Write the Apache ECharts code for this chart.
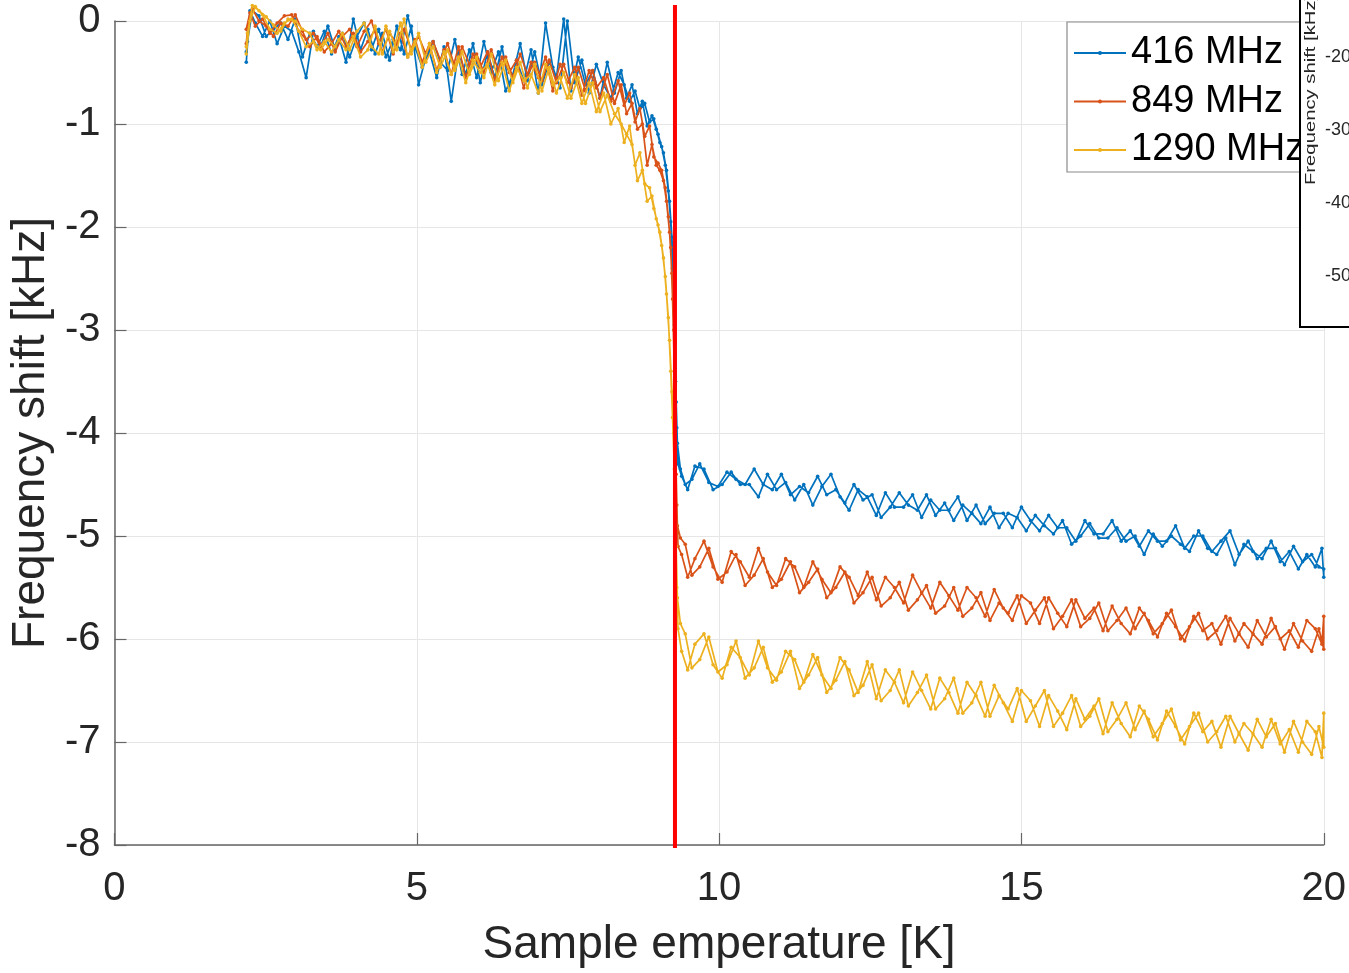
<!DOCTYPE html>
<html>
<head>
<meta charset="utf-8">
<script src="https://cdn.jsdelivr.net/npm/echarts@6/dist/echarts.min.js"></script>
<style>html,body{margin:0;padding:0;background:#fff;}#c{width:1349px;height:973px;}</style>
</head>
<body>
<div id="c"></div>
<script>
// ---- data ----
const seriesNames = ['416 MHz', '849 MHz', '1290 MHz'];
const seriesColors = ['#0072BD', '#D95319', '#EDB120'];

// temperature points of the warming sweep (K)
const tempUp = [2.18,2.24,2.33,2.45,2.57,2.69,2.81,2.93,3.05,3.17,3.29,3.41,3.53,3.65,3.77,3.89,4.01,4.13,4.25,4.37,4.49,4.61,4.73,4.85,4.97,5.09,5.21,5.33,5.45,5.57,5.69,5.81,5.93,6.05,6.17,6.29,6.41,6.53,6.65,6.77,6.89,7.01,7.13,7.25,7.37,7.49,7.61,7.73,7.85,7.97,8.09,8.21,8.33,
8.43,8.52,8.61,8.69,8.77,8.85,8.92,8.99,9.05,9.11,9.16,9.20,9.23,9.26,9.28,9.30,9.32,
9.38,9.48,9.60,9.75,9.90,10.05,10.20,10.35,10.50,10.65,10.80,10.95,11.10,11.25,11.40,11.55,11.70,11.85,12.00,12.15,12.30,12.45,12.60,12.75,12.90,13.05,13.20,13.35,13.50,13.65,13.80,13.95,14.10,14.25,14.40,14.55,14.70,14.85,15.00,15.15,15.30,15.45,15.60,15.75,15.90,16.05,16.20,16.35,16.50,16.65,16.80,16.95,17.10,17.25,17.40,17.55,17.70,17.85,18.00,18.15,18.30,18.45,18.60,18.75,18.90,19.05,19.20,19.35,19.50,19.65,19.80,19.92,20.00];

// temperature points of the cooling sweep (K)
const tempDown = [20.00,19.97,19.86,19.72,19.58,19.43,19.28,19.13,18.98,18.83,18.68,18.53,18.38,18.23,18.08,17.93,17.78,17.63,17.48,17.33,17.18,17.03,16.88,16.73,16.58,16.43,16.28,16.13,15.98,15.83,15.68,15.53,15.38,15.23,15.08,14.93,14.78,14.63,14.48,14.33,14.18,14.03,13.88,13.73,13.58,13.43,13.28,13.13,12.98,12.83,12.68,12.53,12.38,12.23,12.08,11.93,11.78,11.63,11.48,11.33,11.18,11.03,10.88,10.73,10.58,10.43,10.28,10.13,9.98,9.83,9.68,9.55,9.44,9.36,
9.31,9.29,9.27,9.25,9.22,9.18,9.13,9.08,9.02,8.96,8.89,8.81,8.73,8.65,8.56,8.47,8.38,
8.27,8.15,8.03,7.91,7.79,7.67,7.55,7.43,7.31,7.19,7.07,6.95,6.83,6.71,6.59,6.47,6.35,6.23,6.11,5.99,5.87,5.75,5.63,5.51,5.39,5.27,5.15,5.03,4.91,4.79,4.67,4.55,4.43,4.31,4.19,4.07,3.95,3.83,3.71,3.59,3.47,3.35,3.23,3.11,2.99,2.87,2.75,2.63,2.51,2.39,2.28,2.20,2.18];

// 416 MHz (kHz)
const blueUp = [-0.40,0.10,-0.02,-0.15,0.00,-0.22,-0.05,-0.10,-0.30,-0.55,-0.10,-0.25,-0.05,-0.28,-0.12,-0.35,-0.15,-0.02,-0.28,-0.08,-0.35,-0.18,-0.28,0.05,-0.25,-0.45,-0.30,-0.55,-0.25,-0.78,-0.30,-0.52,-0.22,-0.60,-0.30,-0.55,-0.25,-0.65,-0.38,-0.58,-0.28,-0.70,-0.02,-0.45,-0.65,0.00,-0.60,-0.38,-0.70,-0.42,-0.62,-0.75,-0.50,
-0.62,-0.78,-0.68,-0.85,-0.80,-0.98,-0.95,-1.10,-1.22,-1.40,-1.65,-1.95,-2.40,-2.95,-3.50,-3.95,-4.30,
-4.42,-4.55,-4.32,-4.35,-4.55,-4.50,-4.38,-4.50,-4.50,-4.62,-4.40,-4.55,-4.48,-4.65,-4.50,-4.70,-4.52,-4.40,-4.62,-4.75,-4.55,-4.62,-4.80,-4.58,-4.72,-4.72,-4.60,-4.82,-4.65,-4.75,-4.75,-4.62,-4.85,-4.70,-4.88,-4.78,-4.78,-4.92,-4.72,-4.85,-4.95,-4.80,-4.92,-4.92,-5.05,-4.85,-4.98,-4.98,-4.85,-5.05,-4.95,-5.10,-4.95,-5.05,-5.05,-4.90,-5.12,-5.00,-5.00,-5.15,-5.05,-4.95,-5.18,-5.05,-5.22,-5.12,-5.12,-5.28,-5.10,-5.25,-5.18,-5.30,-5.32];
const blueDown = [-5.40,-5.12,-5.30,-5.18,-5.32,-5.15,-5.25,-5.05,-5.22,-5.15,-5.08,-5.28,-5.02,-5.18,-5.12,-4.95,-5.15,-5.08,-5.00,-5.10,-4.98,-5.18,-5.00,-5.05,-4.92,-5.02,-5.02,-4.88,-5.00,-5.08,-4.85,-4.98,-4.90,-4.80,-4.95,-4.82,-4.78,-4.92,-4.72,-4.88,-4.78,-4.70,-4.85,-4.68,-4.80,-4.60,-4.75,-4.70,-4.58,-4.72,-4.82,-4.60,-4.65,-4.50,-4.68,-4.55,-4.60,-4.42,-4.58,-4.52,-4.60,-4.40,-4.55,-4.50,-4.35,-4.50,-4.45,-4.38,-4.52,-4.48,-4.30,-4.45,-4.50,-4.35,
-4.10,-3.70,-3.10,-2.55,-2.10,-1.75,-1.45,-1.28,-1.18,-1.05,-0.92,-1.02,-0.78,-0.90,-0.62,-0.75,-0.48,
-0.70,-0.40,-0.75,-0.48,-0.62,-0.35,-0.68,0.02,-0.55,-0.40,-0.62,-0.30,-0.58,-0.22,-0.52,-0.68,-0.30,-0.50,-0.20,-0.55,-0.28,-0.52,-0.18,-0.48,-0.40,-0.20,-0.35,-0.62,-0.05,-0.32,-0.05,-0.38,-0.12,-0.32,-0.08,-0.28,0.02,-0.40,-0.15,-0.32,-0.10,-0.25,-0.12,-0.35,0.02,-0.18,-0.02,-0.08,-0.15,0.05,0.10,-0.20,-0.30];

// 849 MHz (kHz)
const orangeUp = [-0.08,0.08,-0.05,0.02,-0.12,-0.02,0.05,0.06,-0.10,-0.18,-0.12,-0.25,-0.12,-0.30,-0.15,-0.08,-0.25,-0.10,0.00,-0.22,-0.08,-0.32,-0.12,-0.35,-0.18,-0.40,-0.22,-0.48,-0.28,-0.52,-0.25,-0.55,-0.32,-0.45,-0.30,-0.58,-0.35,-0.50,-0.38,-0.65,-0.40,-0.55,-0.35,-0.68,-0.42,-0.60,-0.45,-0.72,-0.48,-0.65,-0.55,-0.78,-0.58,
-0.82,-0.70,-0.98,-0.85,-1.12,-1.02,-1.32,-1.38,-1.45,-1.62,-1.90,-2.20,-2.70,-3.40,-4.10,-4.70,-5.10,
-5.18,-5.40,-5.22,-5.05,-5.30,-5.45,-5.15,-5.25,-5.40,-5.12,-5.35,-5.48,-5.22,-5.30,-5.50,-5.25,-5.42,-5.55,-5.30,-5.40,-5.58,-5.35,-5.62,-5.40,-5.50,-5.65,-5.38,-5.55,-5.70,-5.45,-5.58,-5.72,-5.50,-5.60,-5.78,-5.52,-5.70,-5.82,-5.58,-5.65,-5.85,-5.60,-5.75,-5.88,-5.62,-5.80,-5.70,-5.92,-5.68,-5.85,-5.95,-5.70,-5.82,-5.98,-5.75,-5.88,-6.02,-5.78,-5.92,-5.85,-6.05,-5.80,-5.95,-6.08,-5.82,-5.98,-5.88,-6.10,-5.85,-6.02,-6.12,-5.90,-6.10];
const orangeDown = [-5.78,-6.05,-5.90,-5.82,-6.08,-5.92,-6.00,-5.80,-6.05,-5.95,-5.85,-6.02,-5.78,-5.92,-6.00,-5.75,-5.88,-6.00,-5.72,-5.85,-5.95,-5.75,-5.90,-5.70,-5.82,-5.92,-5.65,-5.80,-5.88,-5.62,-5.78,-5.90,-5.60,-5.72,-5.85,-5.58,-5.75,-5.65,-5.82,-5.55,-5.70,-5.78,-5.50,-5.68,-5.75,-5.48,-5.62,-5.72,-5.45,-5.60,-5.68,-5.40,-5.55,-5.65,-5.35,-5.50,-5.60,-5.32,-5.45,-5.55,-5.25,-5.42,-5.50,-5.22,-5.38,-5.48,-5.18,-5.35,-5.42,-5.12,-5.30,-5.38,-5.08,-5.02,
-4.90,-4.40,-3.70,-3.00,-2.45,-2.05,-1.75,-1.55,-1.45,-1.40,-1.20,-1.40,-1.00,-1.05,-0.80,-0.90,-0.62,
-0.80,-0.52,-0.75,-0.48,-0.68,-0.45,-0.65,-0.42,-0.60,-0.38,-0.58,-0.40,-0.52,-0.32,-0.55,-0.35,-0.48,-0.28,-0.50,-0.32,-0.42,-0.25,-0.45,-0.22,-0.38,-0.20,-0.32,-0.15,-0.28,-0.08,-0.22,-0.12,-0.30,-0.08,-0.20,-0.30,-0.12,-0.25,-0.10,-0.22,-0.30,-0.15,-0.25,-0.10,0.06,-0.05,-0.02,-0.15,-0.05,0.00,0.12,-0.08,-0.22];

// 1290 MHz (kHz)
const yellowUp = [-0.32,0.00,0.14,0.06,-0.08,-0.12,-0.02,0.02,-0.10,-0.25,-0.20,-0.28,-0.18,-0.25,-0.12,-0.28,-0.10,-0.02,-0.25,-0.32,-0.05,-0.30,-0.02,-0.35,-0.20,-0.45,-0.22,-0.50,-0.30,-0.52,-0.35,-0.60,-0.38,-0.50,-0.42,-0.62,-0.40,-0.68,-0.45,-0.58,-0.52,-0.70,-0.42,-0.62,-0.55,-0.75,-0.52,-0.80,-0.60,-0.88,-0.70,-1.00,-0.85,
-1.18,-1.02,-1.40,-1.28,-1.58,-1.62,-1.82,-1.98,-2.18,-2.48,-2.88,-3.40,-3.85,-4.35,-4.90,-5.50,-5.90,
-6.12,-6.30,-6.05,-5.95,-6.25,-6.38,-6.08,-6.18,-6.35,-6.02,-6.28,-6.40,-6.12,-6.20,-6.42,-6.15,-6.35,-6.48,-6.18,-6.30,-6.52,-6.22,-6.58,-6.30,-6.42,-6.62,-6.32,-6.50,-6.68,-6.38,-6.52,-6.72,-6.42,-6.55,-6.75,-6.45,-6.62,-6.80,-6.50,-6.60,-6.85,-6.55,-6.70,-6.88,-6.58,-6.78,-6.65,-6.92,-6.62,-6.82,-6.95,-6.65,-6.78,-6.98,-6.70,-6.85,-7.02,-6.72,-6.90,-6.80,-7.05,-6.75,-6.92,-7.08,-6.78,-6.95,-6.82,-7.10,-6.80,-7.00,-7.12,-6.85,-7.05];
const yellowDown = [-6.72,-7.15,-6.90,-6.80,-7.10,-6.88,-7.02,-6.78,-7.05,-6.92,-6.82,-7.00,-6.75,-6.90,-7.00,-6.72,-6.85,-6.98,-6.68,-6.82,-6.95,-6.70,-6.88,-6.62,-6.78,-6.90,-6.58,-6.75,-6.85,-6.55,-6.72,-6.85,-6.50,-6.65,-6.80,-6.48,-6.68,-6.55,-6.75,-6.42,-6.62,-6.72,-6.38,-6.58,-6.68,-6.35,-6.52,-6.65,-6.30,-6.50,-6.60,-6.25,-6.45,-6.55,-6.22,-6.40,-6.52,-6.18,-6.35,-6.48,-6.12,-6.32,-6.42,-6.08,-6.28,-6.38,-6.02,-6.25,-6.32,-5.98,-6.20,-6.28,-5.95,-5.85,
-5.60,-5.10,-4.50,-4.00,-3.60,-3.10,-2.65,-2.30,-2.05,-1.92,-1.70,-1.75,-1.45,-1.55,-1.20,-1.10,-1.00,
-0.90,-0.72,-0.88,-0.60,-0.80,-0.55,-0.75,-0.50,-0.70,-0.45,-0.68,-0.42,-0.65,-0.40,-0.60,-0.38,-0.58,-0.32,-0.55,-0.35,-0.52,-0.30,-0.48,-0.28,-0.45,-0.25,-0.40,-0.12,-0.32,0.02,-0.28,-0.10,-0.32,-0.05,-0.28,-0.35,-0.15,-0.28,-0.18,-0.30,-0.20,-0.28,-0.12,-0.08,0.00,0.02,-0.10,-0.04,0.04,0.10,0.15,-0.12,-0.25];

// critical temperature marker (K) and its vertical extent (kHz)
const tcTemp = 9.27;
const tcExtent = [0.155, -8.03];

// inset axis ticks (kHz)
const insetTicks = [-50, -40, -30, -20];

// x / y axis ranges
const xRange = [0, 20], xStep = 5;
const yRange = [-8, 0], yStep = 1;

function sweep(tUp, vUp, tDown, vDown) {
  const out = [];
  const n1 = Math.min(tUp.length, vUp.length);
  for (let i = 0; i < n1; i++) out.push([tUp[i], vUp[i]]);
  const n2 = Math.min(tDown.length, vDown.length);
  for (let i = 0; i < n2; i++) out.push([tDown[i], vDown[i]]);
  return out;
}

const seriesData = [
  sweep(tempUp, blueUp, tempDown, blueDown),
  sweep(tempUp, orangeUp, tempDown, orangeDown),
  sweep(tempUp, yellowUp, tempDown, yellowDown)
];

const FONT = '"Liberation Sans", Arial, Helvetica, sans-serif';
const chart = echarts.init(document.getElementById('c'), null, {renderer: 'canvas'});

const series = seriesData.map((d, i) => ({
  name: seriesNames[i],
  type: 'line',
  xAxisIndex: 0, yAxisIndex: 0,
  data: d,
  showSymbol: true,
  symbol: 'circle',
  symbolSize: 3.6,
  clip: false,
  color: seriesColors[i],
  lineStyle: {width: 1.7, color: seriesColors[i]},
  itemStyle: {color: seriesColors[i]},
  emphasis: {disabled: true},
  animation: false,
  z: 2 + i
}));

series.push({
  name: 'Tc',
  type: 'line',
  xAxisIndex: 0, yAxisIndex: 0,
  data: [[tcTemp, tcExtent[0]], [tcTemp, tcExtent[1]]],
  showSymbol: false,
  clip: false,
  lineStyle: {width: 4, color: '#FF0000'},
  emphasis: {disabled: true},
  animation: false,
  z: 10
});

const option = {
  backgroundColor: '#fff',
  animation: false,
  grid: [
    {left: 112, right: 24, top: 21, bottom: 126, containLabel: false},
    {left: 1356, width: 100, top: 57, height: 219, containLabel: false}
  ],
  xAxis: [
    {
      type: 'value', gridIndex: 0, min: xRange[0], max: xRange[1], interval: xStep,
      name: 'Sample emperature [K]', nameLocation: 'middle', nameGap: 77,
      nameTextStyle: {fontSize: 46, color: '#262626', fontFamily: FONT},
      axisLine: {show: true, onZero: false, lineStyle: {color: '#666', width: 1.5}},
      axisTick: {show: true, inside: true, length: 12, lineStyle: {color: '#666', width: 1.2}},
      axisLabel: {fontSize: 40, color: '#262626', fontFamily: FONT, margin: 24},
      splitLine: {show: true, lineStyle: {color: '#e6e6e6', width: 1}}
    },
    {type: 'value', gridIndex: 1, show: false, min: 0, max: 1}
  ],
  yAxis: [
    {
      type: 'value', gridIndex: 0, min: yRange[0], max: yRange[1], interval: yStep,
      name: 'Frequency shift [kHz]', nameLocation: 'middle', nameGap: 56,
      nameTextStyle: {fontSize: 46, color: '#262626', fontFamily: FONT},
      axisLine: {show: true, onZero: false, lineStyle: {color: '#666', width: 1.5}},
      axisTick: {show: true, inside: true, length: 12, lineStyle: {color: '#666', width: 1.2}},
      axisLabel: {fontSize: 40, color: '#262626', fontFamily: FONT, margin: 14},
      splitLine: {show: true, lineStyle: {color: '#e6e6e6', width: 1}}
    },
    {
      type: 'value', gridIndex: 1, min: insetTicks[0], max: insetTicks[insetTicks.length - 1], interval: 10,
      z: 8,
      axisLine: {show: false}, axisTick: {show: false}, splitLine: {show: false},
      axisLabel: {fontSize: 18, color: '#262626', fontFamily: FONT, margin: 5}
    }
  ],
  legend: {
    show: true,
    orient: 'vertical',
    left: 1067, top: 22,
    data: seriesNames,
    itemWidth: 52, itemHeight: 5, itemGap: 8.5,
    padding: [11, 40, 2, 6],
    backgroundColor: '#fff',
    borderColor: '#8a8a8a', borderWidth: 1.2, borderRadius: 0,
    textStyle: {fontSize: 38, color: '#000', fontFamily: FONT, lineHeight: 40},
    selectedMode: false,
    z: 4
  },
  graphic: [
    {
      type: 'rect', z: 6, silent: true,
      shape: {x: 1300, y: -4, width: 80, height: 331},
      style: {fill: '#fff', stroke: '#000', lineWidth: 2}
    },
    {
      type: 'text', z: 9, silent: true,
      x: 1311, y: 185, rotation: Math.PI / 2, scaleX: 1.35,
      style: {text: 'Frequency shift [kHz]', font: '15px ' + FONT, fill: '#262626', align: 'left', verticalAlign: 'middle'}
    }
  ],
  series: series
};
chart.setOption(option);
</script>
</body>
</html>
